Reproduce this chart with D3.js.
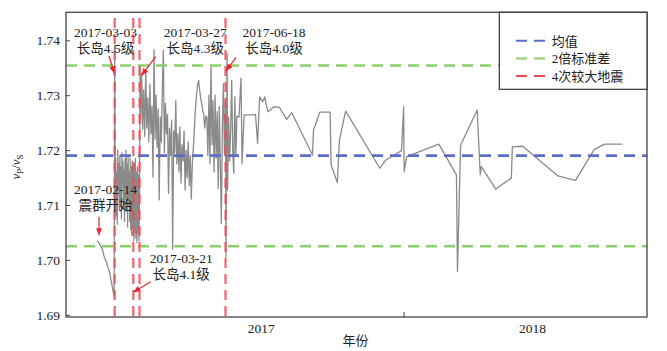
<!DOCTYPE html>
<html lang="zh">
<head>
<meta charset="UTF-8">
<title>vP/vS</title>
<style>
  body { margin: 0; background: #fff; }
  svg text { font-family: "Liberation Serif", "Noto Sans CJK SC", serif; fill: #222; }
  .axis .domain { display: none; }
  .axis line { stroke: #444; }
</style>
</head>
<body>
<svg id="svg" width="667" height="351"></svg>
<script src="https://cdn.jsdelivr.net/npm/d3@7"></script>
<script>
// 波速比序列（日期 / 数值）
const dates = [
  "2017-02-14", "2017-02-16", "2017-02-17", "2017-02-19", "2017-02-21", "2017-02-23", "2017-02-26", "2017-03-02T12",
  "2017-03-03T00", "2017-03-03T12",
  "2017-03-04T00", "2017-03-04T12", "2017-03-05T00", "2017-03-05T12", "2017-03-06T00", "2017-03-06T12",
  "2017-03-07T00", "2017-03-07T12", "2017-03-08T00", "2017-03-08T12", "2017-03-09T00", "2017-03-09T12",
  "2017-03-10T00", "2017-03-10T12", "2017-03-11T00", "2017-03-11T12", "2017-03-12T00", "2017-03-12T12",
  "2017-03-13T00", "2017-03-13T12", "2017-03-14T00", "2017-03-14T12", "2017-03-15T00", "2017-03-15T12",
  "2017-03-16T00", "2017-03-16T12", "2017-03-17T00", "2017-03-17T12", "2017-03-18T00", "2017-03-18T12",
  "2017-03-19T00", "2017-03-19T12", "2017-03-20T00", "2017-03-20T12", "2017-03-21T00", "2017-03-21T12",
  "2017-03-22T00", "2017-03-22T12", "2017-03-23T00", "2017-03-23T12", "2017-03-24T00", "2017-03-24T12",
  "2017-03-25T00", "2017-03-25T12", "2017-03-26T00", "2017-03-26T12", "2017-03-27T00", "2017-03-27T12",
  "2017-03-28", "2017-03-29", "2017-03-30", "2017-03-31", "2017-04-01", "2017-04-02", "2017-04-03", "2017-04-04",
  "2017-04-05", "2017-04-06", "2017-04-07", "2017-04-08", "2017-04-09", "2017-04-10", "2017-04-11", "2017-04-12",
  "2017-04-13", "2017-04-14", "2017-04-15", "2017-04-16", "2017-04-17", "2017-04-18", "2017-04-19", "2017-04-20",
  "2017-04-21", "2017-04-22", "2017-04-23", "2017-04-24", "2017-04-25", "2017-04-26", "2017-04-27", "2017-04-28",
  "2017-04-29", "2017-04-30", "2017-05-01", "2017-05-02", "2017-05-03", "2017-05-04", "2017-05-05", "2017-05-06",
  "2017-05-07", "2017-05-08", "2017-05-09", "2017-05-10", "2017-05-11", "2017-05-12", "2017-05-13", "2017-05-14",
  "2017-05-15", "2017-05-16", "2017-05-17", "2017-05-18", "2017-05-19", "2017-05-20", "2017-05-21", "2017-05-22",
  "2017-05-23", "2017-05-24", "2017-05-25", "2017-05-26", "2017-05-27", "2017-05-28", "2017-05-29", "2017-05-30",
  "2017-05-31", "2017-06-01", "2017-06-02", "2017-06-03", "2017-06-04", "2017-06-05", "2017-06-06", "2017-06-07",
  "2017-06-08", "2017-06-09", "2017-06-10", "2017-06-11", "2017-06-12", "2017-06-13", "2017-06-14", "2017-06-15",
  "2017-06-16", "2017-06-17", "2017-06-18T00", "2017-06-18T12", "2017-06-19T00", "2017-06-19T12", "2017-06-20",
  "2017-06-21", "2017-06-22", "2017-06-23", "2017-06-24", "2017-06-25", "2017-06-26", "2017-06-27", "2017-06-28",
  "2017-06-29",
  "2017-07-01", "2017-07-03", "2017-07-04", "2017-07-06", "2017-07-14", "2017-07-17", "2017-07-19", "2017-07-21",
  "2017-07-24", "2017-07-26", "2017-07-27", "2017-07-29", "2017-08-04", "2017-08-09", "2017-08-16", "2017-08-21",
  "2017-09-10", "2017-09-11", "2017-09-17", "2017-09-27", "2017-09-28", "2017-10-04", "2017-10-06", "2017-10-12",
  "2017-11-14", "2017-11-20", "2017-12-05", "2017-12-07T00", "2017-12-07T12", "2017-12-10",
  "2018-01-10", "2018-01-27", "2018-01-28", "2018-01-31", "2018-02-16", "2018-02-19", "2018-02-20", "2018-03-06",
  "2018-03-21", "2018-03-22", "2018-04-01", "2018-05-05", "2018-05-22", "2018-06-09", "2018-06-19", "2018-07-06"
]
const values = [
  1.7035, 1.7031, 1.7027, 1.7020, 1.7005, 1.6996, 1.6978, 1.6933,
  1.7390, 1.7120,
  1.7185, 1.7080, 1.7160, 1.7065, 1.7200, 1.7120,
  1.7175, 1.7090, 1.7190, 1.7105, 1.7170, 1.7075,
  1.7195, 1.7135, 1.7180, 1.7095, 1.7165, 1.7070,
  1.7185, 1.7110, 1.7200, 1.7090, 1.7175, 1.7060,
  1.7190, 1.7100, 1.7160, 1.7070, 1.7185, 1.7055,
  1.7170, 1.7045, 1.7180, 1.7060, 1.7165, 1.7035,
  1.7175, 1.7050, 1.7185, 1.7040, 1.7160, 1.7032,
  1.7170, 1.7048, 1.7155, 1.7035, 1.7120, 1.7352,
  1.7250, 1.7340, 1.7238, 1.7310, 1.7225, 1.7345, 1.7240, 1.7295,
  1.7215, 1.7320, 1.7230, 1.7280, 1.7151, 1.7383, 1.7220, 1.7300,
  1.7205, 1.7275, 1.7109, 1.7260, 1.7215, 1.7310, 1.7382, 1.7195,
  1.7285, 1.7230, 1.7265, 1.7121, 1.7240, 1.7190, 1.7255, 1.7020,
  1.7235, 1.7195, 1.7290, 1.7175, 1.7230, 1.7160, 1.7242, 1.7140,
  1.7210, 1.7180, 1.7235, 1.7127, 1.7200, 1.7150, 1.7215, 1.7135,
  1.7190, 1.7111, 1.7175, 1.7205, 1.7240, 1.7275, 1.7300, 1.7318,
  1.7327, 1.7310, 1.7295, 1.7285, 1.7272, 1.7265, 1.7240, 1.7262,
  1.7260, 1.7190, 1.7300, 1.7175, 1.7355, 1.7210, 1.7290, 1.7160,
  1.7300, 1.7185, 1.7270, 1.7130, 1.7280, 1.7175, 1.7067, 1.7250,
  1.7321, 1.7190, 1.7290, 1.7005, 1.7250, 1.7376, 1.7127,
  1.7260, 1.7180, 1.7240, 1.7327, 1.7200, 1.7158, 1.7297, 1.7190,
  1.7262,
  1.7260, 1.7331, 1.7175, 1.7264, 1.7264, 1.7265, 1.7212, 1.7297,
  1.7288, 1.7297, 1.7285, 1.7270, 1.7279, 1.7278, 1.7256, 1.7268,
  1.7191, 1.7236, 1.7269, 1.7269, 1.7173, 1.7141, 1.7218, 1.7271,
  1.7167, 1.7182, 1.7199, 1.7279, 1.7161, 1.7188,
  1.7211, 1.7155, 1.6979, 1.7209, 1.7273, 1.7155, 1.7170, 1.7129,
  1.7149, 1.7206, 1.7207, 1.7153, 1.7145, 1.7201, 1.7211, 1.7211
]

// 参考线
const meanValue = 1.719
const sdUpper = 1.7354
const sdLower = 1.7025
const quakeDates = ["2017-03-03", "2017-03-21", "2017-03-27", "2017-06-18"]

// 坐标轴
const yTicks = [1.69, 1.70, 1.71, 1.72, 1.73, 1.74]
const xLabelDates = ["2017-07-22", "2018-04-10"]
const xLabels = ["2017", "2018"]
const xMarkDates = ["2017-12-07"]
const legendNames = ["均值", "2倍标准差", "4次较大地震"]

const parse = s => (s.length > 10 ? d3.utcParse("%Y-%m-%dT%H") : d3.utcParse("%Y-%m-%d"))(s)
const data = dates.map((d, i) => ({ date: parse(d), value: values[i] }))

const svg = d3.select("svg#svg")
const pLeft = 66, pRight = 647, pTop = 12.3, pBottom = 317

const x = d3.scaleUtc().domain([parse("2017-01-15"), parse("2018-07-30")]).range([pLeft, pRight])
const y = d3.scaleLinear().domain([1.6896, 1.7451]).range([pBottom, pTop])

const blue = "#5a6fc4", green = "#8dcf6c", red = "#ee4a55"

// 数据折线
const line = d3.line().x(d => x(d.date)).y(d => y(d.value))
svg.append("path").datum(data)
  .attr("fill", "none")
  .attr("stroke", "#8a8a8a")
  .attr("stroke-width", 1.3)
  .attr("stroke-linejoin", "round")
  .attr("d", line)

// 均值与2倍标准差
const hlines = [{ v: meanValue, c: blue }, { v: sdUpper, c: green }, { v: sdLower, c: green }]
svg.append("g").selectAll("line").data(hlines).join("line")
  .attr("x1", pLeft).attr("x2", pRight)
  .attr("y1", d => y(d.v)).attr("y2", d => y(d.v))
  .attr("stroke", d => d.c)
  .attr("stroke-width", 2.6)
  .attr("stroke-dasharray", "11,7")

// 地震竖线
svg.append("g").selectAll("line").data(quakeDates).join("line")
  .attr("x1", d => x(parse(d))).attr("x2", d => x(parse(d)))
  .attr("y1", 18).attr("y2", pBottom)
  .attr("stroke", red)
  .attr("stroke-opacity", 0.85)
  .attr("stroke-width", 2.2)
  .attr("stroke-dasharray", "10,6")

// 边框
svg.append("rect")
  .attr("x", pLeft).attr("y", pTop)
  .attr("width", pRight - pLeft).attr("height", pBottom - pTop)
  .attr("fill", "none").attr("stroke", "#444").attr("stroke-width", 1.3)

// y 轴
svg.append("g").attr("class", "axis")
  .attr("transform", `translate(${pLeft},0)`)
  .call(d3.axisLeft(y).tickValues(yTicks).tickFormat(d3.format(".2f"))
    .tickSizeInner(-4).tickSizeOuter(0).tickPadding(6))
  .selectAll("text").style("font-size", "13.5px")

// x 轴：年份标签 + 刻度
svg.append("g").attr("class", "axis")
  .attr("transform", `translate(0,${pBottom})`)
  .call(d3.axisBottom(x).tickValues(xLabelDates.map(parse)).tickFormat((d, i) => xLabels[i])
    .tickSize(0).tickPadding(6))
  .selectAll("text").style("font-size", "13.5px")
svg.append("g").attr("class", "axis")
  .attr("transform", `translate(0,${pBottom})`)
  .call(d3.axisBottom(x).tickValues(xMarkDates.map(parse)).tickFormat("")
    .tickSizeInner(-5).tickSizeOuter(0))

// 轴标题
svg.append("text")
  .attr("x", 355.5).attr("y", 345)
  .attr("text-anchor", "middle")
  .style("font-size", "13px")
  .text("年份")

const yl = svg.append("text")
  .attr("transform", "translate(20,167) rotate(-90)")
  .attr("text-anchor", "middle")
  .style("font-size", "13px")
yl.append("tspan").style("font-style", "italic").text("v")
yl.append("tspan").attr("dy", 3).style("font-size", "9px").text("P")
yl.append("tspan").attr("dy", -3).text("/")
yl.append("tspan").style("font-style", "italic").text("v")
yl.append("tspan").attr("dy", 3).style("font-size", "9px").text("S")

// 注释
svg.append("defs").append("marker")
  .attr("id", "arrow")
  .attr("markerUnits", "userSpaceOnUse")
  .attr("markerWidth", 7).attr("markerHeight", 6)
  .attr("refX", 7).attr("refY", 3)
  .attr("orient", "auto")
  .append("path").attr("d", "M0,0L7,3L0,6Z").attr("fill", "#e3262f")

const notes = [
  { date: "2017-03-03", v: 1.7340, dx: -0.5, text: ["2017-03-03", "长岛4.5级"], tx: 105.5, ty: 37, from: [109, 56] },
  { date: "2017-03-27", v: 1.7336, dx: 2, text: ["2017-03-27", "长岛4.3级"], tx: 195.3, ty: 37, from: [155.7, 56.7] },
  { date: "2017-06-18", v: 1.7344, dx: 0.5, text: ["2017-06-18", "长岛4.0级"], tx: 274, ty: 37, from: [236, 57.3] },
  { date: "2017-02-14", v: 1.7045, dx: 2, text: ["2017-02-14", "震群开始"], tx: 105.5, ty: 194, from: [99, 216.7] },
  { date: "2017-03-21", v: 1.6941, dx: 0, text: ["2017-03-21", "长岛4.1级"], tx: 181.2, ty: 263, from: [150.7, 281.7] }
]
const ng = svg.append("g").selectAll("g").data(notes).join("g")
ng.append("line")
  .attr("x1", d => d.from[0]).attr("y1", d => d.from[1])
  .attr("x2", d => x(parse(d.date)) + d.dx).attr("y2", d => y(d.v))
  .attr("stroke", "#e3262f").attr("stroke-width", 1.2)
  .attr("marker-end", "url(#arrow)")
ng.selectAll("text").data(d => d.text.map((t, i) => ({ t, x: d.tx, y: d.ty + i * 16 }))).join("text")
  .attr("x", d => d.x).attr("y", d => d.y)
  .attr("text-anchor", "middle")
  .style("font-size", "13.5px")
  .text(d => d.t)

// 图例
const lg = svg.append("g")
lg.append("rect")
  .attr("x", 499.3).attr("y", pTop)
  .attr("width", pRight - 499.3).attr("height", 77)
  .attr("fill", "#fff").attr("stroke", "#333").attr("stroke-width", 1.2)
const legendColors = [blue, green, red]
legendNames.forEach((name, i) => {
  const ly = 40.7 + i * 17.7
  lg.append("line")
    .attr("x1", 516).attr("x2", 546).attr("y1", ly).attr("y2", ly)
    .attr("stroke", legendColors[i]).attr("stroke-width", 2)
    .attr("stroke-dasharray", "11,7")
  lg.append("text")
    .attr("x", 551.7).attr("y", ly + 4.8)
    .style("font-size", "13px")
    .text(name)
})
</script>
</body>
</html>
